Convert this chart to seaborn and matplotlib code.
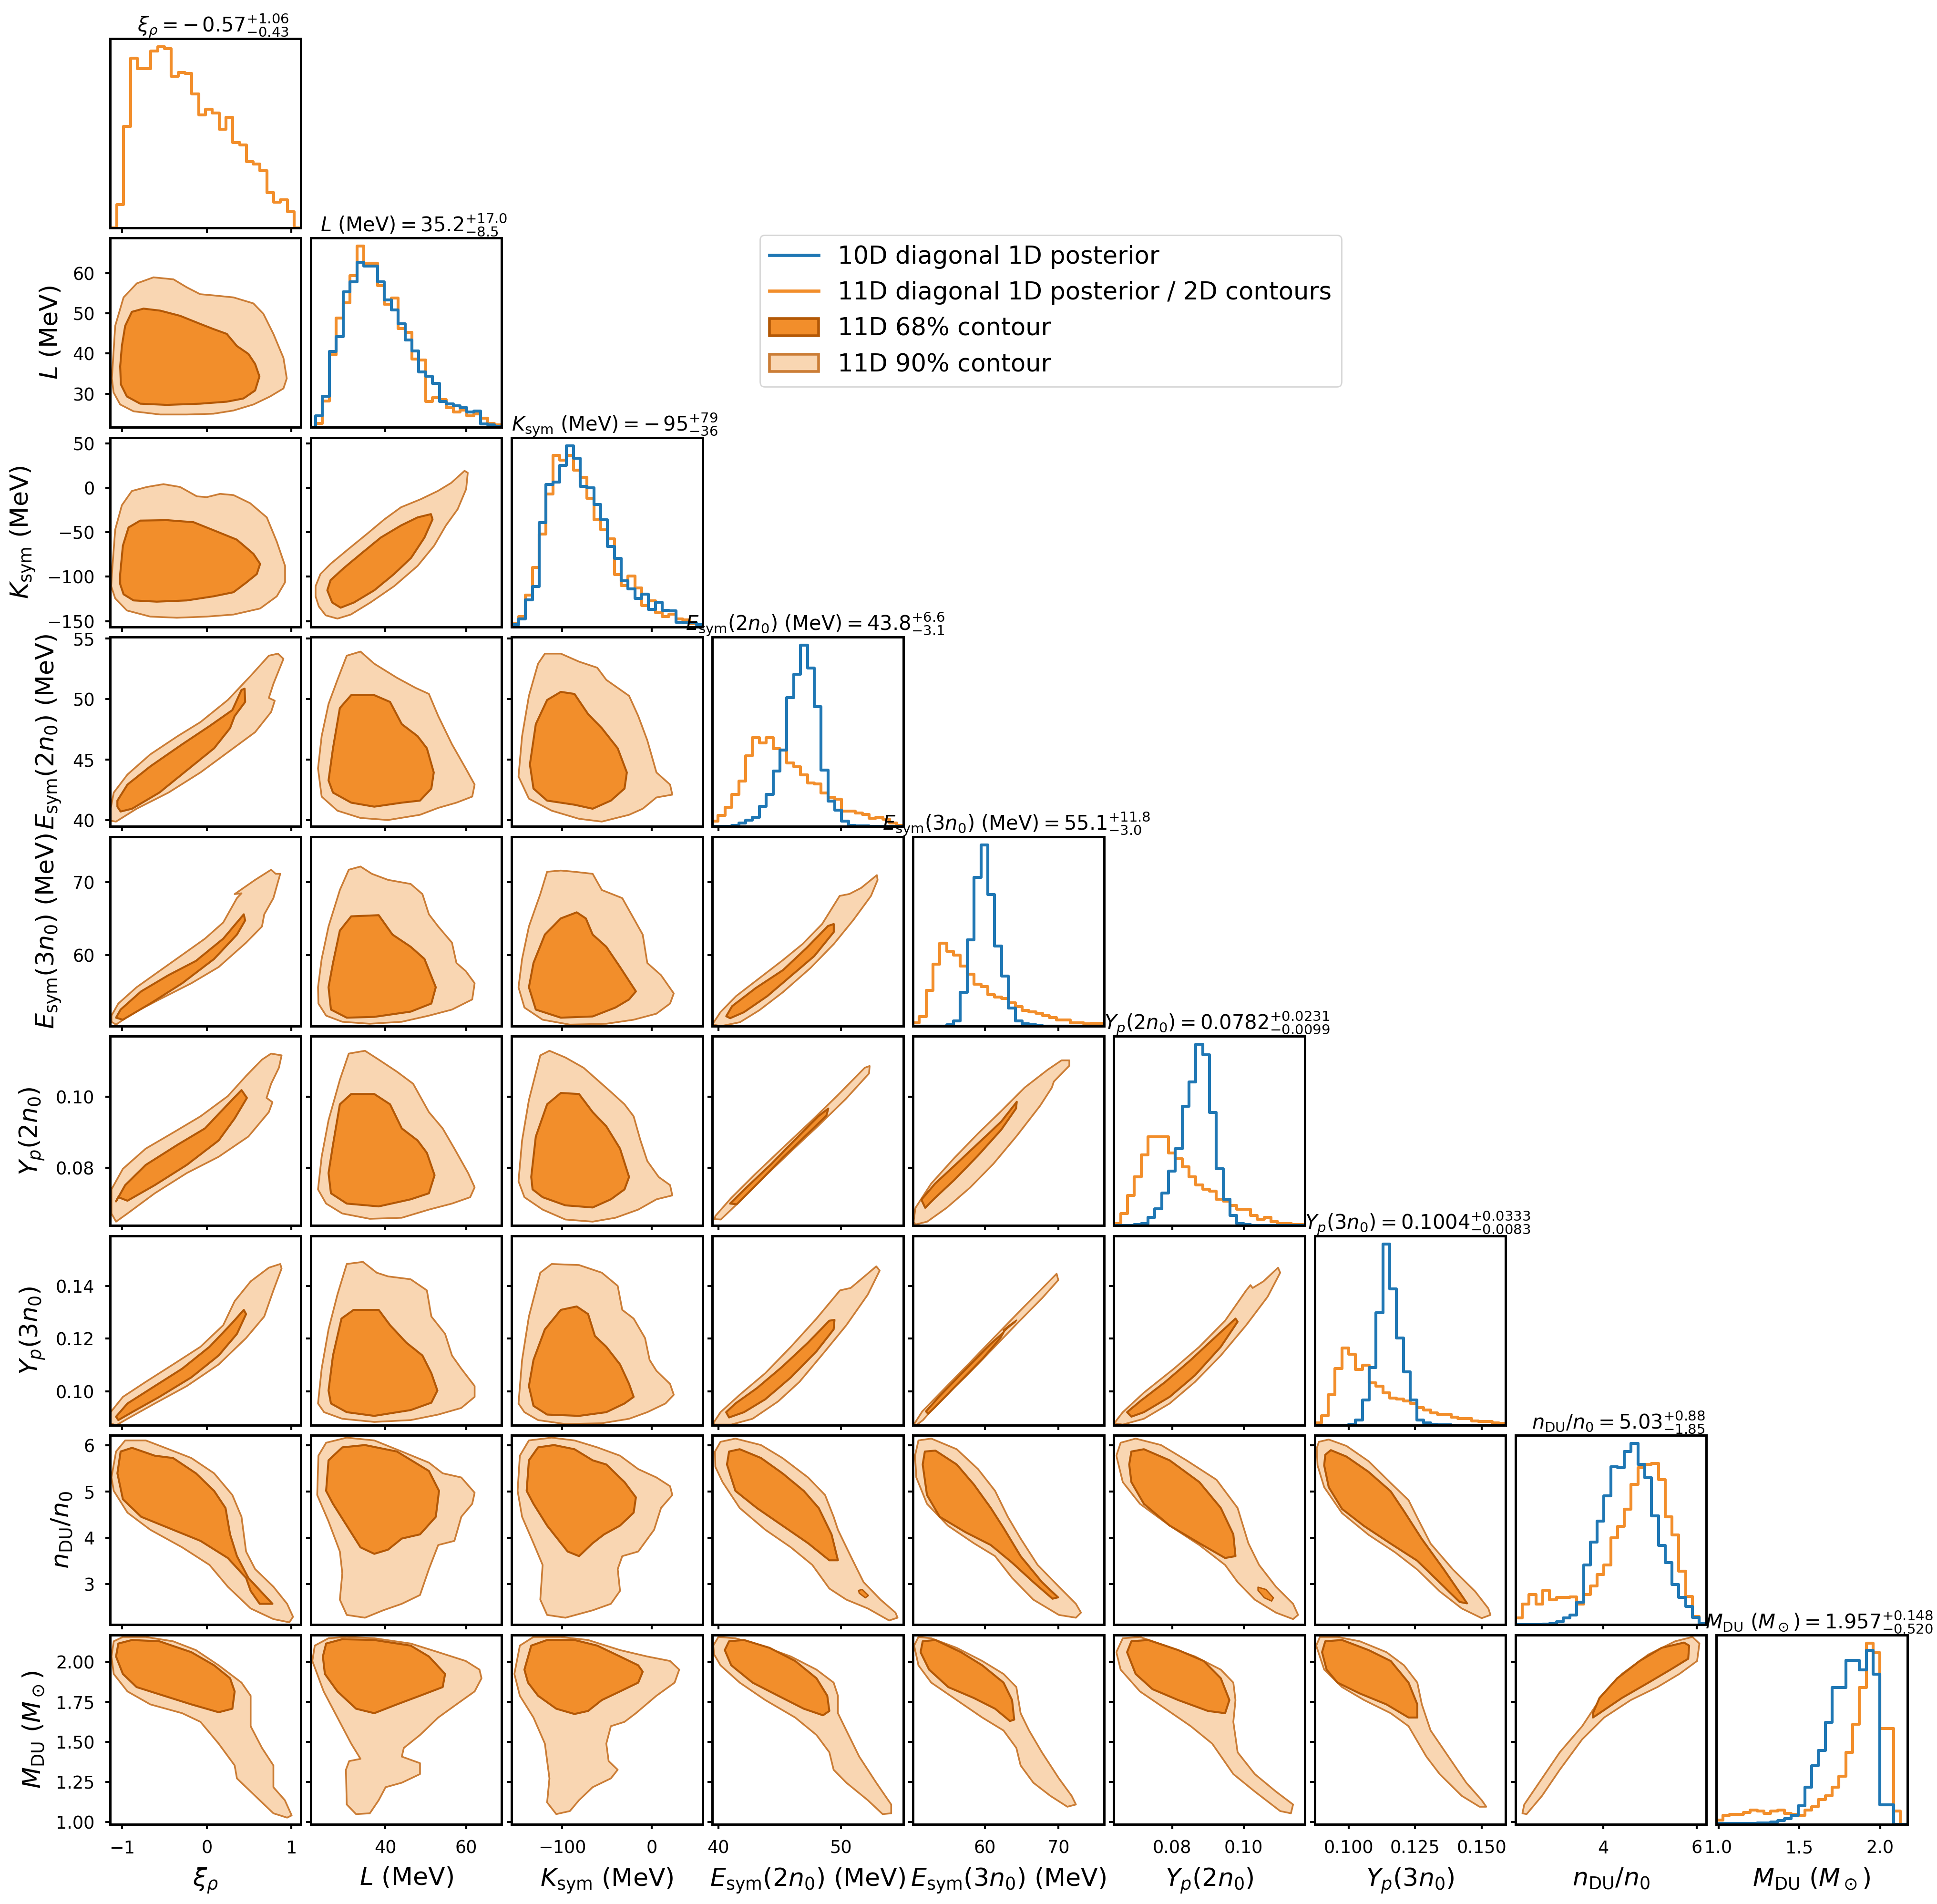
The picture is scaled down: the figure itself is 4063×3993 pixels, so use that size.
import numpy as np
import pandas as pd
import matplotlib
matplotlib.use("Agg")
import matplotlib.pyplot as plt
from matplotlib.lines import Line2D
from matplotlib.patches import Patch
import seaborn as sns

# ---------------- parameters / labels ----------------
names = ["xi", "L", "Ksym", "E2", "E3", "Y2", "Y3", "nDU", "MDU"]
axis_labels = [r"$\xi_\rho$", r"$L$ (MeV)", r"$K_{\rm sym}$ (MeV)",
               r"$E_{\rm sym}(2n_0)$ (MeV)", r"$E_{\rm sym}(3n_0)$ (MeV)",
               r"$Y_p(2n_0)$", r"$Y_p(3n_0)$", r"$n_{\rm DU}/n_0$",
               r"$M_{\rm DU}$ ($M_\odot$)"]
titles = [r"$\xi_\rho = -\,0.57^{+1.06}_{-0.43}$",
          r"$L$ (MeV)$ = 35.2^{+17.0}_{-8.5}$",
          r"$K_{\rm sym}$ (MeV)$ = -\,95^{+79}_{-36}$",
          r"$E_{\rm sym}(2n_0)$ (MeV)$ = 43.8^{+6.6}_{-3.1}$",
          r"$E_{\rm sym}(3n_0)$ (MeV)$ = 55.1^{+11.8}_{-3.0}$",
          r"$Y_p(2n_0) = 0.0782^{+0.0231}_{-0.0099}$",
          r"$Y_p(3n_0) = 0.1004^{+0.0333}_{-0.0083}$",
          r"$n_{\rm DU}/n_0 = 5.03^{+0.88}_{-1.85}$",
          r"$M_{\rm DU}$ $(M_\odot)$$ = 1.957^{+0.148}_{-0.520}$"]
axis_limits = [(-1.145, 1.113), (21.6, 68.8), (-156.5, 56.5), (39.5, 55.1),
               (50.25, 76.2), (0.0637, 0.1171), (0.0872, 0.1590),
               (2.12, 6.21), (0.986, 2.168)]
xticks_list = [[-1, 0, 1], [40, 60], [-100, 0], [40, 50], [60, 70],
               [0.08, 0.10], [0.100, 0.125, 0.150], [4, 6], [1.0, 1.5, 2.0]]
yticks_list = [[], [30, 40, 50, 60], [-150, -100, -50, 0, 50], [40, 45, 50, 55],
               [60, 70], [0.08, 0.10], [0.10, 0.12, 0.14], [3, 4, 5, 6],
               [1.0, 1.25, 1.5, 1.75, 2.0]]

# ---------------- 1D histograms (28 bins each) ----------------
hist_ranges = [(-1.145, 1.113), (21.1, 68.7), (-156.2, 57.3), (39.42, 55.11),
               (50.16, 76.24), (0.0637, 0.1172), (0.0872, 0.159),
               (2.123, 6.2), (0.986, 2.168)]
xi_11D = [0, 145, 638, 1065, 1000, 1000, 1110, 1138, 1125, 952, 975, 970, 840, 710,
          745, 720, 620, 695, 535, 520, 415, 400, 360, 220, 160, 175, 100, 0]
L_11D = [0, 10, 65, 178, 268, 306, 373, 445, 403, 403, 348, 303, 318, 243,
         233, 168, 166, 63, 73, 68, 48, 38, 43, 28, 33, 23, 10, 6]
L_10D = [0, 28, 76, 186, 223, 333, 358, 406, 396, 396, 358, 313, 288, 255,
         215, 188, 136, 126, 108, 63, 58, 53, 48, 38, 40, 8, 6, 3]
K_11D = [20, 65, 200, 375, 585, 835, 1080, 1050, 1080, 985, 940, 810, 675, 610,
         555, 330, 260, 320, 245, 135, 165, 90, 65, 80, 50, 45, 20, 10]
K_10D = [15, 50, 170, 255, 655, 895, 910, 1015, 1140, 1060, 885, 875, 770, 675,
         505, 430, 290, 240, 180, 205, 110, 155, 105, 100, 30, 25, 25, 15]
E2_11D = [13, 28, 48, 80, 113, 176, 220, 208, 220, 193, 190, 158, 148, 128,
          108, 106, 83, 73, 68, 38, 38, 33, 30, 20, 23, 18, 8, 3]
E2_10D = [0, 0, 0, 3, 8, 16, 23, 50, 80, 138, 190, 320, 378, 450,
          393, 298, 140, 63, 40, 13, 3, 1, 1, 0, 0, 0, 0, 0]
E3_11D = [8, 23, 88, 153, 205, 185, 175, 148, 128, 103, 98, 78, 71, 68,
          58, 48, 38, 35, 31, 25, 21, 15, 15, 8, 8, 6, 7, 7]
E3_10D = [0, 0, 0, 0, 0, 3, 13, 83, 213, 368, 448, 325, 198, 123,
          45, 13, 5, 3, 1, 0, 0, 0, 0, 0, 0, 0, 0, 0]
Y2_11D = [5, 30, 75, 120, 175, 220, 220, 220, 180, 165, 145, 120, 100, 90,
          85, 65, 60, 50, 40, 40, 25, 15, 20, 10, 5, 5, 3, 2]
Y2_10D = [0, 0, 0, 2, 5, 20, 42, 80, 135, 190, 295, 355, 448, 422,
          280, 140, 65, 25, 5, 2, 0, 0, 0, 0, 0, 0, 0, 0]
Y3_11D = [5, 22, 70, 130, 177, 162, 127, 137, 97, 89, 74, 62, 60, 55,
          50, 40, 35, 28, 25, 25, 18, 15, 15, 10, 8, 8, 5, 4]
Y3_10D = [0, 0, 0, 0, 0, 2, 12, 57, 132, 257, 415, 312, 199, 122,
          57, 12, 5, 2, 1, 1, 0, 0, 0, 0, 0, 0, 0, 0]
n_11D = [15, 47, 69, 47, 79, 57, 62, 62, 64, 47, 69, 89, 115, 137,
         199, 225, 265, 321, 359, 367, 369, 332, 247, 205, 122, 65, 19, 2]
n_10D = [0, 0, 0, 0, 1, 2, 7, 15, 22, 52, 137, 189, 237, 295,
         362, 359, 397, 415, 367, 337, 249, 182, 142, 92, 62, 42, 17, 2]
M_11D = [10, 20, 23, 23, 27, 33, 30, 25, 30, 33, 25, 23, 20, 33,
         40, 57, 65, 85, 110, 165, 230, 315, 417, 395, 220, 220, 30, 0]
M_10D = [2, 2, 2, 2, 2, 2, 3, 3, 5, 8, 13, 20, 42, 85,
         135, 170, 235, 315, 315, 377, 377, 355, 400, 345, 45, 45, 0, 0]
hist_11D = [xi_11D, L_11D, K_11D, E2_11D, E3_11D, Y2_11D, Y3_11D, n_11D, M_11D]
hist_10D = [None, L_10D, K_10D, E2_10D, E3_10D, Y2_10D, Y3_10D, n_10D, M_10D]

# ---------------- 2D credible contours (x = column param, y = row param) ----------------
L_xi_90 = [(-1.122,33.8),(-1.083,46.9),(-0.984,54.0),(-0.827,57.5),(-0.630,59.0),(-0.394,58.5),(-0.236,56.5),(-0.079,54.8),(0.079,54.5),(0.315,54.0),(0.551,52.5),(0.669,49.9),(0.787,44.9),(0.906,38.9),(0.945,33.8),(0.906,31.3),(0.748,29.3),(0.551,27.3),(0.315,25.8),(0.079,25.0),(-0.236,24.8),(-0.551,24.8),(-0.866,25.6),(-1.024,27.3),(-1.102,30.3)]
L_xi_68 = [(-1.024,36.8),(-1.004,41.9),(-0.965,46.9),(-0.886,50.4),(-0.748,51.2),(-0.551,50.7),(-0.315,49.4),(-0.079,47.4),(0.079,46.1),(0.236,44.9),(0.354,41.9),(0.492,39.9),(0.571,37.4),(0.622,34.3),(0.571,30.8),(0.433,28.8),(0.236,28.0),(-0.079,27.5),(-0.472,27.2),(-0.787,27.5),(-0.945,29.3),(-1.016,32.3)]
K_xi_90 = [(-1.122,-97),(-1.083,-47),(-1.004,-19.6),(-0.886,-3.6),(-0.709,0.9),(-0.512,4.1),(-0.315,0.9),(-0.118,-9.6),(0,-10.5),(0.157,-6.8),(0.315,-8.2),(0.512,-17.3),(0.709,-33.3),(0.827,-60.6),(0.925,-87.9),(0.925,-106.2),(0.827,-122.1),(0.630,-135.8),(0.315,-142.6),(0,-144.9),(-0.354,-146.2),(-0.669,-144.9),(-0.945,-138),(-1.083,-124.4),(-1.13,-110.7)]
K_xi_68 = [(-1.024,-97),(-0.992,-65.1),(-0.925,-44.6),(-0.787,-36.9),(-0.472,-36.4),(-0.157,-38.7),(0.118,-49.2),(0.354,-58.3),(0.551,-74.3),(0.630,-85.6),(0.591,-97),(0.472,-106.2),(0.315,-117.5),(0.079,-122.1),(-0.236,-126.7),(-0.591,-128.1),(-0.866,-126.7),(-0.984,-119.8),(-1.024,-108.4)]
K_L_90 = [(22.8,-110.7),(24.0,-97),(26.5,-85.6),(30.7,-69.7),(35.6,-51.5),(39.8,-35.5),(43.9,-21.9),(48.8,-12.8),(53.0,-3.6),(56.3,5.5),(59.6,19.1),(60.4,16.9),(60.0,-1.4),(57.9,-24.1),(55.0,-42.4),(52.1,-65.1),(48.0,-87.9),(42.2,-110.7),(36.4,-128.9),(31.5,-142.6),(28.2,-147.2),(25.3,-143.5),(23.6,-133.5),(22.8,-122.1)]
K_L_68 = [(25.7,-115.3),(26.5,-103.9),(29.8,-90.2),(34.0,-74.3),(38.9,-56),(43.9,-42.4),(48.0,-33.3),(51.3,-29.6),(51.7,-35.5),(49.7,-56),(46.4,-78.8),(42.2,-97),(37.3,-115.3),(32.3,-129),(29.0,-134.9),(26.9,-129)]
E2_xi_90 = [(-1.137,40.96),(-1.10,42.29),(-0.938,43.78),(-0.668,45.44),(-0.345,46.94),(-0.075,48.10),(0.248,49.92),(0.518,51.91),(0.733,53.57),(0.841,53.74),(0.906,53.31),(0.787,51.25),(0.733,50.09),(0.803,49.86),(0.760,48.93),(0.571,47.27),(0.248,45.61),(-0.075,43.95),(-0.453,42.29),(-0.830,40.96),(-1.073,39.90),(-1.137,39.97)]
E2_xi_68 = [(-1.057,41.63),(-0.938,42.95),(-0.668,44.45),(-0.291,46.27),(0.032,47.77),(0.302,49.09),(0.410,50.75),(0.447,50.85),(0.453,49.76),(0.329,48.6),(0.275,47.6),(0.086,45.94),(-0.237,44.12),(-0.561,42.29),(-0.884,40.96),(-1.019,40.73),(-1.057,41.13)]
E2_L_90 = [(23.4,44.28),(24.3,46.94),(26.0,49.59),(28.2,51.58),(30.5,53.57),(33.9,53.91),(37.3,52.91),(42.9,51.75),(47.5,50.92),(50.8,50.42),(53.1,48.60),(56.5,46.27),(59.9,44.28),(62.1,42.95),(61.5,41.96),(57.6,41.46),(53.1,41.03),(48.6,40.46),(40.7,40.03),(33.9,40.20),(28.2,40.80),(24.3,41.96)]
E2_L_68 = [(26.0,43.29),(27.1,45.94),(28.8,49.26),(31.6,50.32),(37.3,50.32),(41.2,49.76),(44.1,47.93),(48.0,46.94),(50.3,45.94),(52.0,43.95),(51.4,42.62),(48.6,41.63),(44.1,41.46),(37.3,41.13),(31.6,41.46),(27.1,42.29)]
E2_K_90 = [(-148.7,43.62),(-144.7,46.94),(-137.1,50.26),(-126.9,52.91),(-119.3,53.74),(-101.5,53.74),(-81.2,53.08),(-60.9,52.58),(-50.8,51.58),(-25.4,50.26),(-15.2,48.60),(-5.1,46.60),(5.1,43.95),(20.3,42.95),(22.8,42.12),(5.1,41.89),(-10.2,40.96),(-25.4,40.46),(-55.8,39.90),(-81.2,40.13),(-111.7,40.80),(-137.1,41.79)]
E2_K_68 = [(-136,44.61),(-129.4,47.93),(-116.8,49.92),(-101.5,50.59),(-86.3,50.42),(-71.1,48.76),(-55.8,47.60),(-38.1,45.94),(-27.9,43.95),(-30.5,42.62),(-45.7,41.63),(-66.0,40.96),(-86.3,41.29),(-116.8,41.63),(-132,42.62)]
E3_xi_90 = [(-1.127,51.67),(-1.046,53.33),(-0.830,55.56),(-0.561,57.78),(-0.291,60.0),(-0.022,62.22),(0.194,64.44),(0.356,67.78),(0.410,68.44),(0.329,68.33),(0.571,70.28),(0.760,71.67),(0.814,71.11),(0.868,71.11),(0.787,67.78),(0.679,65.56),(0.652,63.89),(0.464,61.67),(0.140,58.33),(-0.183,56.11),(-0.561,53.89),(-0.884,51.94),(-1.073,50.44),(-1.127,50.83)]
E3_xi_68 = [(-1.073,51.39),(-1.019,52.5),(-0.776,55.0),(-0.453,57.22),(-0.129,59.17),(0.194,62.22),(0.437,65.56),(0.453,64.72),(0.356,62.78),(0.086,59.44),(-0.291,56.11),(-0.668,53.33),(-0.992,51.11)]
E3_L_90 = [(23.4,55.56),(24.3,59.44),(26.0,63.89),(28.8,68.89),(31.0,71.67),(33.9,72.11),(36.7,71.11),(40.7,70.28),(46.3,69.72),(49.2,68.33),(50.8,65.56),(53.1,63.89),(56.5,61.67),(57.6,58.89),(59.9,57.78),(62.1,56.11),(61.5,53.89),(56.5,52.5),(50.8,51.67),(44.1,50.83),(36.2,50.56),(29.4,50.83),(25.4,51.67),(23.5,53.33)]
E3_L_68 = [(26.0,55.56),(27.1,58.89),(28.8,63.33),(31.6,65.28),(38.4,65.44),(41.8,62.78),(46.3,61.11),(49.7,59.44),(52.5,55.56),(51.4,53.33),(46.3,52.22),(37.3,51.5),(30.5,51.39),(26.6,52.5)]
E3_K_90 = [(-148.7,55.56),(-144.7,59.44),(-137.1,63.89),(-124.4,68.33),(-116.8,71.39),(-101.5,71.56),(-86.3,71.39),(-66.0,71.11),(-55.8,68.89),(-33.0,67.78),(-20.3,65.0),(-10.2,62.78),(-5.1,58.89),(10.2,57.22),(24.4,54.72),(20.3,53.33),(5.1,51.94),(-20.3,51.11),(-50.8,50.56),(-91.4,50.44),(-121.8,51.11),(-142.1,52.78)]
E3_K_68 = [(-137.1,55.56),(-132.0,58.89),(-119.3,62.78),(-101.5,65.0),(-83.8,65.83),(-73.6,65.0),(-66.0,62.78),(-50.8,61.11),(-35.5,58.33),(-17.8,55.0),(-25.4,53.89),(-40.6,52.78),(-66.0,51.56),(-101.5,51.39),(-129.4,52.5)]
E3_E2_90 = [(39.52,50.49),(40.16,52.14),(41.44,54.34),(43.35,56.81),(45.27,59.29),(46.87,61.48),(48.47,64.23),(49.90,68.08),(50.70,68.35),(51.66,69.18),(52.94,70.93),(53.0,70.27),(52.46,68.08),(51.02,64.78),(49.42,61.48),(47.51,58.19),(45.27,54.89),(43.35,52.42),(41.76,50.77),(40.16,50.22)]
E3_E2_68 = [(40.64,51.59),(41.12,52.97),(43.04,55.44),(45.27,57.91),(47.19,60.93),(48.95,63.96),(49.42,64.23),(49.42,63.13),(47.83,59.84),(45.91,57.09),(43.99,54.34),(42.08,52.14),(40.96,51.32)]
Y2_xi_90 = [(-1.127,0.0739),(-0.992,0.0797),(-0.722,0.0854),(-0.399,0.0899),(-0.075,0.0945),(0.248,0.1002),(0.464,0.1059),(0.652,0.1105),(0.760,0.1122),(0.884,0.1117),(0.852,0.1082),(0.760,0.1037),(0.706,0.0997),(0.776,0.0985),(0.733,0.0957),(0.491,0.0888),(0.140,0.0831),(-0.237,0.0785),(-0.615,0.0728),(-0.938,0.0671),(-1.073,0.0648),(-1.127,0.0671)]
Y2_xi_68 = [(-1.073,0.0705),(-0.965,0.0751),(-0.722,0.0808),(-0.345,0.0865),(-0.022,0.0911),(0.248,0.0979),(0.410,0.1019),(0.474,0.0997),(0.329,0.0939),(0.140,0.0877),(-0.237,0.0808),(-0.615,0.0751),(-0.938,0.0707),(-1.046,0.0717)]
Y2_L_90 = [(23.4,0.0739),(24.3,0.0831),(26.0,0.0934),(28.8,0.1048),(31.0,0.1122),(35.0,0.1130),(38.4,0.1105),(42.9,0.1071),(46.9,0.1037),(50.8,0.0957),(54.2,0.0911),(57.1,0.0854),(60.5,0.0785),(62.1,0.0745),(61.0,0.0717),(56.5,0.0699),(50.8,0.0682),(44.1,0.0659),(36.2,0.0656),(29.4,0.0671),(25.4,0.0699)]
Y2_L_68 = [(26.0,0.0785),(27.1,0.0865),(28.8,0.0979),(31.6,0.1008),(37.3,0.1008),(41.2,0.0979),(44.1,0.0911),(48.0,0.0877),(50.3,0.0842),(52.2,0.0779),(50.8,0.0728),(46.3,0.0711),(38.4,0.0691),(30.5,0.0699),(26.6,0.0728)]
Y2_K_90 = [(-148.7,0.0762),(-144.7,0.0877),(-137.1,0.0991),(-124.4,0.1117),(-114.2,0.1130),(-96.4,0.1111),(-76.1,0.1082),(-60.9,0.1048),(-45.7,0.1014),(-30.5,0.0979),(-20.3,0.0945),(-12.7,0.0877),(-5.1,0.0819),(7.6,0.0774),(20.3,0.0751),(22.8,0.0722),(5.1,0.0711),(-15.2,0.0682),(-40.6,0.0659),(-66.0,0.0648),(-96.4,0.0654),(-121.8,0.0682),(-142.1,0.0717)]
Y2_K_68 = [(-134.5,0.0774),(-129.4,0.0888),(-116.8,0.0979),(-101.5,0.1011),(-81.2,0.1008),(-66.0,0.0957),(-50.8,0.0917),(-35.5,0.0854),(-25.4,0.0774),(-30.5,0.0739),(-45.7,0.0711),(-66.0,0.0688),(-96.4,0.0694),(-121.8,0.0717),(-133,0.0739)]
Y2_E2_90 = [(39.75,0.0664),(41.05,0.0715),(43.0,0.0782),(45.25,0.0856),(47.5,0.0929),(49.7,0.1003),(51.95,0.1082),(52.35,0.1087),(52.3,0.1066),(50.4,0.0994),(48.2,0.0920),(45.95,0.0847),(43.7,0.0773),(41.5,0.0697),(40.2,0.0654),(39.7,0.0655)]
Y2_E2_68 = [(40.95,0.0699),(42.4,0.0748),(44.3,0.0810),(46.2,0.0877),(48.15,0.0945),(48.97,0.0967),(48.82,0.0947),(47.2,0.0893),(45.3,0.0830),(43.38,0.0762),(41.5,0.0697)]
Y2_E3_90 = [(50.32,0.0648),(50.58,0.0687),(52.70,0.0755),(55.87,0.0828),(59.05,0.0896),(62.22,0.0960),(65.40,0.1026),(68.57,0.1077),(70.42,0.1103),(71.48,0.1103),(71.48,0.1088),(69.37,0.1043),(69.10,0.1026),(67.51,0.0975),(64.34,0.0890),(61.16,0.0811),(57.99,0.0744),(54.81,0.0687),(52.17,0.0648),(50.58,0.0640)]
Y2_E3_68 = [(51.38,0.0710),(53.23,0.0755),(55.87,0.0806),(59.05,0.0868),(62.22,0.0930),(64.34,0.0986),(64.23,0.0967),(62.22,0.0907),(59.05,0.0834),(55.87,0.0766),(53.23,0.0715),(51.90,0.0687)]
Y3_xi_90 = [(-1.137,0.0921),(-0.992,0.0979),(-0.722,0.1036),(-0.399,0.1102),(-0.075,0.1169),(0.194,0.1251),(0.329,0.1342),(0.518,0.1417),(0.733,0.1469),(0.868,0.1483),(0.884,0.1466),(0.787,0.1383),(0.679,0.1284),(0.464,0.1202),(0.140,0.1102),(-0.237,0.1020),(-0.615,0.0954),(-0.938,0.0896),(-1.073,0.0871),(-1.137,0.0879)]
Y3_xi_68 = [(-1.073,0.0904),(-0.938,0.0954),(-0.615,0.1020),(-0.291,0.1086),(0.032,0.1169),(0.302,0.1260),(0.437,0.1309),(0.464,0.1293),(0.356,0.1218),(0.140,0.1136),(-0.183,0.1053),(-0.561,0.0979),(-0.884,0.0921),(-1.046,0.0891)]
Y3_L_90 = [(23.4,0.0954),(24.3,0.1086),(26.0,0.1235),(28.2,0.1367),(30.5,0.1483),(34.5,0.1491),(37.9,0.1450),(40.7,0.1436),(46.3,0.1425),(50.3,0.1383),(51.4,0.1284),(54.8,0.1218),(56.5,0.1136),(58.8,0.1086),(62.1,0.1020),(62.1,0.0979),(58.8,0.0937),(53.1,0.0912),(46.3,0.0891),(37.3,0.0884),(29.4,0.0896),(24.9,0.0921)]
Y3_L_68 = [(26.0,0.1003),(27.1,0.1136),(29.2,0.1276),(32.2,0.1309),(38.4,0.1309),(41.2,0.1251),(45.2,0.1185),(49.2,0.1136),(51.4,0.1069),(52.9,0.1003),(51.4,0.0957),(46.3,0.0929),(37.3,0.0907),(30.5,0.0921),(26.6,0.0954)]
Y3_K_90 = [(-148.7,0.0954),(-144.7,0.1119),(-137.1,0.1284),(-124.4,0.1450),(-111.7,0.1483),(-81.2,0.1479),(-55.8,0.1450),(-38.1,0.1400),(-33.0,0.1309),(-20.3,0.1276),(-7.6,0.1202),(-2.5,0.1119),(5.1,0.1078),(20.3,0.1028),(24.4,0.0987),(15.2,0.0954),(-5.1,0.0921),(-25.4,0.0896),(-55.8,0.0879),(-96.4,0.0876),(-126.9,0.0891),(-142.1,0.0921)]
Y3_K_68 = [(-137.1,0.1020),(-132.0,0.1119),(-119.3,0.1235),(-101.5,0.1309),(-83.8,0.1322),(-71.1,0.1293),(-63.5,0.1210),(-50.8,0.1169),(-35.5,0.1102),(-25.4,0.1028),(-20.3,0.0979),(-30.5,0.0954),(-50.8,0.0921),(-81.2,0.0907),(-116.8,0.0912),(-132.0,0.0945)]
Y3_E2_90 = [(39.58,0.0879),(40.17,0.0921),(41.74,0.0987),(43.83,0.1069),(45.92,0.1169),(48.01,0.1276),(49.93,0.1383),(50.80,0.1392),(51.85,0.1433),(52.89,0.1474),(53.17,0.1458),(52.20,0.1367),(50.45,0.1251),(48.71,0.1152),(46.62,0.1036),(44.88,0.0962),(42.79,0.0896),(41.05,0.0874),(39.72,0.0874)]
Y3_E2_68 = [(40.63,0.0921),(41.39,0.0954),(43.14,0.1012),(45.23,0.1094),(47.32,0.1185),(49.06,0.1268),(49.48,0.1271),(49.41,0.1235),(48.01,0.1152),(45.92,0.1053),(43.83,0.0970),(42.09,0.0921),(40.87,0.0901)]
Y3_E3_90 = [(50.40,0.0876),(51.5,0.0924),(54.4,0.1007),(57.9,0.1107),(61.35,0.1207),(64.8,0.1306),(67.7,0.1388),(69.75,0.1446),(69.98,0.1422),(67.8,0.1354),(64.3,0.1255),(60.85,0.1155),(57.4,0.1056),(53.9,0.0965),(51.6,0.0891),(50.7,0.0872)]
Y3_E3_68 = [(52.0,0.0924),(53.85,0.0982),(57.3,0.1081),(60.8,0.1180),(62.55,0.1224),(62.1,0.1202),(59.7,0.1124),(56.2,0.1025),(53.3,0.0942),(52.3,0.0915)]
Y3_Y2_90 = [(0.0638,0.0879),(0.0662,0.0921),(0.0721,0.0995),(0.0805,0.1086),(0.0876,0.1169),(0.0948,0.1268),(0.1007,0.1383),(0.1019,0.1403),(0.1025,0.1392),(0.1055,0.1417),(0.1096,0.1469),(0.1102,0.1450),(0.1067,0.1359),(0.1007,0.1251),(0.0936,0.1136),(0.0864,0.1036),(0.0793,0.0954),(0.0721,0.0896),(0.0662,0.0874)]
Y3_Y2_68 = [(0.0674,0.0921),(0.0710,0.0962),(0.0781,0.1036),(0.0852,0.1119),(0.0924,0.1210),(0.0977,0.1276),(0.0983,0.1264),(0.0936,0.1169),(0.0864,0.1061),(0.0793,0.0979),(0.0721,0.0921),(0.0686,0.0904)]
n_xi_90 = [(-1.127,5.30),(-1.073,5.86),(-0.965,6.10),(-0.722,6.10),(-0.507,5.95),(-0.183,5.72),(0.086,5.39),(0.302,4.92),(0.410,4.45),(0.464,3.70),(0.571,3.32),(0.787,2.94),(0.949,2.57),(1.019,2.29),(0.976,2.17),(0.787,2.24),(0.518,2.47),(0.248,2.94),(0.032,3.41),(-0.291,3.79),(-0.668,4.17),(-0.938,4.54),(-1.100,5.01)]
n_xi_68 = [(-1.057,5.39),(-1.019,5.86),(-0.884,5.94),(-0.615,5.77),(-0.399,5.72),(-0.129,5.39),(0.086,5.01),(0.221,4.64),(0.275,4.07),(0.356,3.60),(0.491,3.13),(0.679,2.76),(0.776,2.57),(0.625,2.57),(0.518,2.85),(0.464,3.13),(0.248,3.56),(-0.075,3.93),(-0.399,4.17),(-0.776,4.45),(-0.992,4.83)]
n_L_90 = [(23.2,4.92),(23.5,5.77),(25.4,6.05),(30.5,6.16),(37.3,6.10),(44.1,5.86),(50.8,5.62),(54.2,5.39),(58.8,5.30),(62.1,4.97),(61.5,4.73),(58.8,4.45),(57.1,3.93),(53.1,3.84),(50.8,3.32),(48.6,2.76),(44.1,2.57),(39.5,2.43),(35.0,2.27),(30.5,2.33),(28.8,2.66),(29.4,3.23),(28.8,3.70),(26.0,4.35)]
n_L_68 = [(25.4,5.01),(26.0,5.67),(29.4,5.95),(35.0,6.00),(42.9,5.86),(50.8,5.44),(53.3,5.01),(52.5,4.45),(48.6,4.07),(44.1,3.98),(40.7,3.74),(37.3,3.65),(33.9,3.79),(30.5,4.26),(27.1,4.73)]
n_K_90 = [(-149.7,5.01),(-147.2,5.77),(-137.1,6.10),(-111.7,6.16),(-86.3,6.10),(-60.9,5.95),(-35.5,5.77),(-15.2,5.48),(5.1,5.30),(20.3,5.11),(22.8,4.92),(10.2,4.64),(2.5,4.17),(-15.2,3.70),(-33.0,3.60),(-38.1,3.32),(-35.5,2.85),(-45.7,2.57),(-66.0,2.43),(-96.4,2.27),(-116.8,2.33),(-124.4,2.66),(-121.8,3.41),(-132.0,3.88),(-144.7,4.45)]
n_K_68 = [(-139.6,5.01),(-137.1,5.67),(-126.9,5.95),(-109.1,6.00),(-86.3,5.91),(-66.0,5.67),(-50.8,5.58),(-30.5,5.20),(-17.8,4.87),(-20.3,4.54),(-35.5,4.26),(-53.3,4.07),(-66.0,3.88),(-81.2,3.60),(-93.9,3.70),(-116.8,4.26),(-132.0,4.73)]
n_E2_90 = [(39.72,5.86),(40.17,6.07),(41.39,6.14),(43.48,6.00),(45.23,5.72),(47.32,5.30),(48.71,4.92),(49.41,4.45),(49.76,4.17),(50.80,3.60),(51.85,3.04),(53.24,2.66),(54.46,2.38),(54.63,2.27),(53.94,2.21),(52.20,2.47),(50.45,2.66),(49.06,2.90),(47.67,3.41),(45.92,3.79),(43.83,4.17),(41.74,4.64),(40.34,5.20),(39.75,5.53)]
n_E2_68 = [(40.70,5.58),(40.87,5.86),(41.74,5.91),(43.48,5.72),(45.23,5.39),(46.97,5.01),(48.19,4.64),(49.24,4.07),(49.76,3.51),(49.06,3.51),(47.32,3.88),(45.23,4.26),(43.14,4.64),(41.39,5.01)]
n_E3_90 = [(50.52,5.77),(50.98,6.10),(52.72,6.14),(56.18,5.91),(59.08,5.48),(61.39,5.01),(63.12,4.45),(64.86,3.98),(67.17,3.41),(70.06,2.94),(72.37,2.57),(73.06,2.38),(72.37,2.27),(70.06,2.33),(66.59,2.66),(63.70,3.13),(61.39,3.60),(58.50,3.88),(54.97,4.26),(52.14,4.73),(50.69,5.30)]
n_E3_68 = [(51.56,5.58),(51.85,5.86),(53.29,5.88),(56.18,5.58),(58.50,5.15),(60.81,4.64),(62.54,4.21),(64.86,3.60),(67.75,3.04),(69.94,2.71),(69.19,2.68),(66.59,3.04),(63.70,3.46),(60.81,3.84),(57.34,4.12),(53.87,4.45),(52.14,4.92)]
n_Y2_90 = [(0.0644,5.77),(0.0656,6.05),(0.0698,6.14),(0.0769,6.00),(0.0840,5.67),(0.0924,5.25),(0.0983,4.64),(0.1013,3.88),(0.1043,3.41),(0.1090,2.94),(0.1138,2.57),(0.1152,2.33),(0.1138,2.24),(0.1090,2.38),(0.1031,2.66),(0.0983,3.04),(0.0948,3.41),(0.0876,3.84),(0.0793,4.26),(0.0710,4.73),(0.0662,5.20)]
n_Y2_68 = [(0.0680,5.58),(0.0686,5.86),(0.0721,5.91),(0.0793,5.67),(0.0876,5.20),(0.0936,4.64),(0.0971,4.07),(0.0977,3.60),(0.0948,3.56),(0.0876,3.88),(0.0793,4.26),(0.0721,4.73),(0.0686,5.20)]
n_Y3_90 = [(0.0880,5.93),(0.0888,6.07),(0.0925,6.12),(0.0992,5.98),(0.1075,5.65),(0.1158,5.18),(0.1225,4.81),(0.1258,4.43),(0.1308,3.87),(0.1392,3.31),(0.1475,2.84),(0.1525,2.47),(0.1533,2.33),(0.1500,2.26),(0.1425,2.47),(0.1342,2.84),(0.1258,3.31),(0.1175,3.68),(0.1075,4.06),(0.0975,4.53),(0.0908,5.09),(0.0883,5.56)]
n_Y3_68 = [(0.0908,5.56),(0.0912,5.79),(0.0933,5.89),(0.0992,5.75),(0.1075,5.42),(0.1158,5.0),(0.1208,4.57),(0.1275,3.97),(0.1358,3.31),(0.1425,2.75),(0.1445,2.58),(0.1417,2.61),(0.1342,3.03),(0.1258,3.50),(0.1158,3.87),(0.1058,4.25),(0.0975,4.62),(0.0925,5.09)]
M_xi_90 = [(-1.127,2.033),(-1.100,2.128),(-0.992,2.155),(-0.722,2.155),(-0.399,2.128),(-0.129,2.073),(0.140,1.978),(0.410,1.870),(0.518,1.788),(0.518,1.598),(0.652,1.462),(0.787,1.353),(0.787,1.217),(0.922,1.136),(1.003,1.041),(0.949,1.027),(0.787,1.054),(0.571,1.163),(0.356,1.272),(0.329,1.353),(0.140,1.489),(-0.075,1.625),(-0.291,1.679),(-0.668,1.734),(-0.938,1.815),(-1.100,1.924)]
M_xi_68 = [(-1.073,2.033),(-1.046,2.114),(-0.884,2.136),(-0.561,2.128),(-0.183,2.060),(0.086,1.978),(0.275,1.897),(0.329,1.815),(0.302,1.707),(0.140,1.685),(-0.183,1.734),(-0.507,1.788),(-0.830,1.842),(-0.992,1.924)]
M_L_90 = [(22.0,2.005),(22.6,2.101),(26.0,2.147),(30.5,2.155),(37.3,2.147),(46.3,2.114),(53.1,2.060),(59.9,2.005),(63.3,1.951),(63.8,1.897),(62.1,1.815),(57.6,1.734),(53.1,1.652),(48.6,1.543),(44.6,1.462),(44.1,1.408),(48.6,1.367),(48.6,1.299),(44.1,1.245),(40.1,1.217),(38.4,1.136),(36.2,1.054),(32.8,1.049),(30.5,1.109),(30.3,1.326),(31.1,1.380),(33.9,1.394),(31.6,1.489),(28.2,1.652),(24.8,1.815)]
M_L_68 = [(24.6,2.033),(25.4,2.114),(29.4,2.141),(37.3,2.136),(46.3,2.101),(50.8,2.033),(54.8,1.924),(54.2,1.842),(48.6,1.788),(42.9,1.734),(37.3,1.679),(32.8,1.707),(28.2,1.815),(25.1,1.924)]
M_K_90 = [(-153.3,1.924),(-147.2,2.101),(-132,2.155),(-101.5,2.155),(-71.1,2.136),(-35.5,2.073),(-5.1,2.033),(20.3,2.005),(30.5,1.951),(25.4,1.870),(5.1,1.788),(-17.8,1.679),(-30.5,1.625),(-45.7,1.598),(-50.8,1.489),(-48.2,1.380),(-38.1,1.326),(-45.7,1.272),(-66.0,1.217),(-81.2,1.136),(-91.4,1.068),(-106.6,1.049),(-116.8,1.122),(-114.2,1.272),(-119.3,1.489),(-132,1.652),(-147.2,1.788)]
M_K_68 = [(-142.1,1.951),(-134.5,2.101),(-116.8,2.136),(-86.3,2.136),(-60.9,2.101),(-35.5,2.033),(-15.2,1.978),(-10.2,1.938),(-15.2,1.870),(-35.5,1.815),(-55.8,1.761),(-71.1,1.693),(-86.3,1.674),(-106.6,1.707),(-126.9,1.788),(-138.1,1.870)]
M_E2_90 = [(39.58,2.101),(40.0,2.155),(41.39,2.147),(43.48,2.101),(45.92,2.033),(48.01,1.951),(49.41,1.870),(49.76,1.788),(49.76,1.679),(50.45,1.571),(51.50,1.408),(52.89,1.245),(54.11,1.109),(54.11,1.054),(53.41,1.049),(52.20,1.136),(50.45,1.245),(49.41,1.326),(49.06,1.435),(48.01,1.543),(46.27,1.652),(43.83,1.761),(41.74,1.870),(40.17,1.978),(39.65,2.046)]
M_E2_68 = [(40.52,2.073),(40.87,2.128),(42.09,2.136),(44.18,2.087),(46.27,2.005),(48.01,1.897),(48.89,1.788),(49.06,1.693),(48.54,1.666),(46.97,1.707),(44.88,1.788),(42.79,1.870),(41.05,1.978)]
M_E3_90 = [(50.40,2.101),(50.98,2.155),(52.72,2.147),(56.18,2.087),(59.65,2.005),(62.54,1.924),(64.28,1.842),(64.86,1.679),(66.01,1.571),(67.75,1.435),(70.06,1.272),(71.79,1.163),(72.37,1.109),(71.21,1.095),(68.90,1.163),(66.59,1.245),(64.86,1.353),(64.28,1.462),(62.54,1.571),(59.65,1.652),(56.18,1.761),(52.72,1.870),(50.98,1.978)]
M_E3_68 = [(51.27,2.060),(51.56,2.128),(53.29,2.136),(56.76,2.060),(59.65,1.978),(62.54,1.870),(63.70,1.761),(63.99,1.639),(63.41,1.630),(61.39,1.707),(58.50,1.774),(55.03,1.842),(52.43,1.951)]
M_Y2_90 = [(0.0644,2.060),(0.0662,2.147),(0.0710,2.155),(0.0781,2.101),(0.0864,2.033),(0.0936,1.951),(0.0971,1.870),(0.0977,1.761),(0.0971,1.625),(0.0983,1.435),(0.1031,1.299),(0.1090,1.190),(0.1138,1.109),(0.1132,1.054),(0.1102,1.068),(0.1031,1.190),(0.0971,1.299),(0.0912,1.489),(0.0852,1.598),(0.0781,1.707),(0.0710,1.815),(0.0656,1.951)]
M_Y2_68 = [(0.0674,2.060),(0.0686,2.128),(0.0733,2.136),(0.0817,2.073),(0.0888,2.005),(0.0936,1.897),(0.0960,1.761),(0.0948,1.679),(0.0900,1.693),(0.0817,1.761),(0.0745,1.829),(0.0698,1.924)]
M_Y3_90 = [(0.0878,2.101),(0.0892,2.155),(0.0958,2.155),(0.1042,2.128),(0.1142,2.060),(0.1208,1.978),(0.1258,1.870),(0.1275,1.734),(0.1308,1.571),(0.1375,1.408),(0.1442,1.245),(0.1500,1.136),(0.1517,1.095),(0.1492,1.095),(0.1425,1.163),(0.1342,1.299),(0.1292,1.408),(0.1225,1.598),(0.1158,1.679),(0.1058,1.761),(0.0975,1.842),(0.0908,1.951)]
M_Y3_68 = [(0.0900,2.060),(0.0912,2.128),(0.0975,2.136),(0.1075,2.073),(0.1158,2.005),(0.1225,1.870),(0.1258,1.734),(0.1258,1.652),(0.1225,1.652),(0.1142,1.734),(0.1042,1.802),(0.0958,1.870),(0.0917,1.951)]
M_n_90 = [(2.27,1.054),(2.31,1.109),(2.69,1.272),(3.07,1.435),(3.55,1.598),(3.92,1.761),(4.40,1.924),(4.97,2.046),(5.54,2.128),(5.91,2.155),(6.06,2.114),(6.01,2.005),(5.63,1.924),(5.16,1.842),(4.59,1.761),(4.02,1.652),(3.55,1.516),(3.07,1.326),(2.69,1.163),(2.36,1.049)]
M_n_68 = [(3.78,1.679),(3.92,1.774),(4.30,1.897),(4.78,2.005),(5.25,2.087),(5.73,2.120),(5.84,2.101),(5.82,2.019),(5.44,1.951),(4.97,1.870),(4.40,1.774),(3.92,1.679),(3.78,1.652)]

# small detached 68% islands
n_Y2_island = [(0.1040,2.93),(0.1062,2.88),(0.1083,2.70),(0.1078,2.63),(0.1058,2.70),(0.1040,2.86)]
n_E2_island = [(51.45,2.86),(51.75,2.88),(52.25,2.75),(52.0,2.70),(51.5,2.80)]
Y3_E3_island = [(62.5,0.1232),(63.3,0.1250),(64.3,0.1270),(64.1,0.1262),(63.1,0.1240),(62.6,0.1226)]

contour_sets = {
    (1, 0): (L_xi_90, L_xi_68),
    (2, 0): (K_xi_90, K_xi_68), (2, 1): (K_L_90, K_L_68),
    (3, 0): (E2_xi_90, E2_xi_68), (3, 1): (E2_L_90, E2_L_68), (3, 2): (E2_K_90, E2_K_68),
    (4, 0): (E3_xi_90, E3_xi_68), (4, 1): (E3_L_90, E3_L_68), (4, 2): (E3_K_90, E3_K_68),
    (4, 3): (E3_E2_90, E3_E2_68),
    (5, 0): (Y2_xi_90, Y2_xi_68), (5, 1): (Y2_L_90, Y2_L_68), (5, 2): (Y2_K_90, Y2_K_68),
    (5, 3): (Y2_E2_90, Y2_E2_68), (5, 4): (Y2_E3_90, Y2_E3_68),
    (6, 0): (Y3_xi_90, Y3_xi_68), (6, 1): (Y3_L_90, Y3_L_68), (6, 2): (Y3_K_90, Y3_K_68),
    (6, 3): (Y3_E2_90, Y3_E2_68), (6, 4): (Y3_E3_90, Y3_E3_68), (6, 5): (Y3_Y2_90, Y3_Y2_68),
    (7, 0): (n_xi_90, n_xi_68), (7, 1): (n_L_90, n_L_68), (7, 2): (n_K_90, n_K_68),
    (7, 3): (n_E2_90, n_E2_68), (7, 4): (n_E3_90, n_E3_68), (7, 5): (n_Y2_90, n_Y2_68),
    (7, 6): (n_Y3_90, n_Y3_68),
    (8, 0): (M_xi_90, M_xi_68), (8, 1): (M_L_90, M_L_68), (8, 2): (M_K_90, M_K_68),
    (8, 3): (M_E2_90, M_E2_68), (8, 4): (M_E3_90, M_E3_68), (8, 5): (M_Y2_90, M_Y2_68),
    (8, 6): (M_Y3_90, M_Y3_68), (8, 7): (M_n_90, M_n_68),
}
islands = {(7, 5): [n_Y2_island], (7, 3): [n_E2_island], (6, 4): [Y3_E3_island]}

# ---------------- styling ----------------
c_blue = "#1f77b4"
c_orange = "#f28e2b"
c68_face, c68_edge = "#f28e2b", "#b35806"
c90_face, c90_edge = "#f9d6b2", "#cb7d36"
TICK_FS, LABEL_FS, TITLE_FS, LEG_FS = 13.2, 18.8, 15, 18.4
HIST_LW = 2.2

fig, axes = plt.subplots(9, 9, figsize=(4063 / 200, 3993 / 200), dpi=200)
fig.subplots_adjust(left=0.05676, right=0.98462, bottom=0.04191, top=0.97979,
                    wspace=0.051, hspace=0.054)


def draw_region(ax, pts, face, edge, lw, z):
    arr = np.asarray(pts, dtype=float)
    ax.fill(arr[:, 0], arr[:, 1], facecolor=face, edgecolor=edge,
            linewidth=lw, zorder=z, joinstyle="round")


def draw_hist(ax, lo, hi, heights, color):
    h = np.asarray(heights, dtype=float)
    width = (hi - lo) / len(h)
    centers = lo + width * (np.arange(len(h)) + 0.5)
    df = pd.DataFrame({"value": centers, "w": h})
    sns.histplot(data=df, x="value", weights="w", bins=len(h), binrange=(lo, hi),
                 element="step", fill=False, color=color, linewidth=HIST_LW, ax=ax)
    return h.max()


for i in range(9):
    for j in range(9):
        ax = axes[i, j]
        if j > i:
            ax.set_axis_off()
            continue
        if i == j:
            lo, hi = hist_ranges[i]
            top = draw_hist(ax, lo, hi, hist_11D[i], c_orange)
            if hist_10D[i] is not None:
                top = max(top, draw_hist(ax, lo, hi, hist_10D[i], c_blue))
            ax.set_ylim(0, 1.045 * top)
            ax.set_yticks([])
            ax.set_title(titles[i], fontsize=TITLE_FS, pad=3, x=0.54)
        else:
            c90, c68 = contour_sets[(i, j)]
            draw_region(ax, c90, c90_face, c90_edge, 1.3, 1)
            draw_region(ax, c68, c68_face, c68_edge, 1.5, 2)
            for isl in islands.get((i, j), []):
                draw_region(ax, isl, c68_face, c68_edge, 1.0, 3)
            ax.set_ylim(*axis_limits[i])
            ax.set_yticks(yticks_list[i])
        ax.set_xlim(*axis_limits[j])
        ax.set_xticks(xticks_list[j])
        ax.set_xlabel("")
        ax.set_ylabel("")
        ax.tick_params(labelsize=TICK_FS, width=1.5, length=3.6, pad=8)
        for sp in ax.spines.values():
            sp.set_linewidth(1.8)
        if i < 8:
            ax.set_xticklabels([])
        else:
            ax.set_xlabel(axis_labels[j], fontsize=LABEL_FS, labelpad=7)
        if i != j:
            if j > 0:
                ax.set_yticklabels([])
            else:
                ax.set_ylabel(axis_labels[i], fontsize=LABEL_FS, labelpad=7)

handles = [Line2D([0], [0], color=c_blue, lw=2.4),
           Line2D([0], [0], color=c_orange, lw=2.4),
           Patch(facecolor=c68_face, edgecolor=c68_edge, linewidth=2.0),
           Patch(facecolor=c90_face, edgecolor=c90_edge, linewidth=2.0)]
leg_labels = ["10D diagonal 1D posterior", "11D diagonal 1D posterior / 2D contours",
              "11D 68% contour", "11D 90% contour"]
fig.legend(handles, leg_labels, loc="upper left", bbox_to_anchor=(0.3923, 0.8765),
           borderaxespad=0, fontsize=LEG_FS)

fig.savefig("out.png", dpi=200)
